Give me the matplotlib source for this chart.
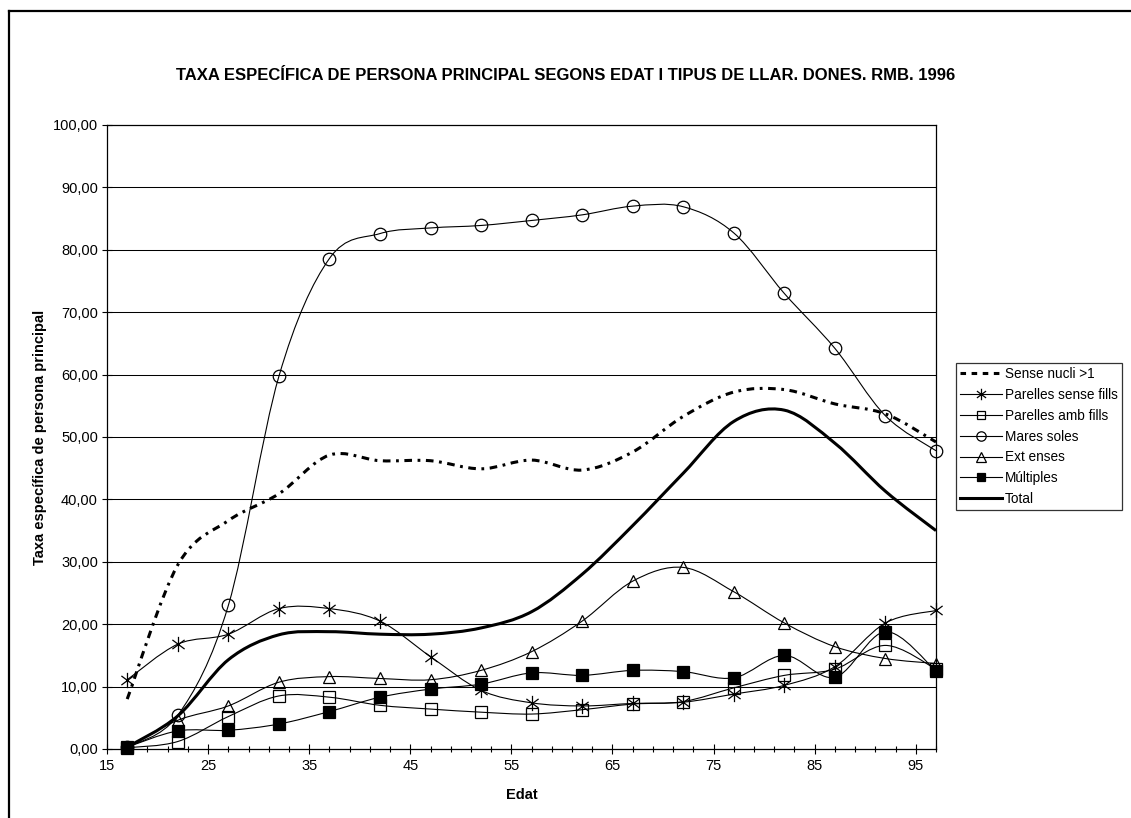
import numpy as np
import matplotlib
matplotlib.use("Agg")
import matplotlib.pyplot as plt
from matplotlib.path import Path
from matplotlib.patches import PathPatch
from matplotlib.lines import Line2D
from matplotlib.ticker import FixedLocator, FuncFormatter

# ---------------- data ----------------
ages = [17, 22, 27, 32, 37, 42, 47, 52, 57, 62, 67, 72, 77, 82, 87, 92, 97]

sense_nucli = [8.0, 29.5, 36.6, 40.9, 47.1, 46.2, 46.2, 44.9, 46.3, 44.7, 47.6, 53.3, 57.2, 57.6, 55.3, 53.7, 49.2]
parelles_sense = [11.1, 16.8, 18.4, 22.5, 22.5, 20.5, 14.8, 9.4, 7.4, 6.9, 7.3, 7.5, 8.8, 10.2, 13.2, 20.2, 22.2]
parelles_amb = [0.2, 1.2, 5.2, 8.5, 8.3, 7.0, 6.4, 5.9, 5.6, 6.3, 7.2, 7.6, 9.8, 11.8, 12.8, 16.6, 12.8]
mares_soles = [0.3, 5.4, 23.0, 59.7, 78.6, 82.6, 83.5, 83.9, 84.7, 85.6, 87.0, 86.9, 82.7, 73.0, 64.2, 53.4, 47.8]
ext_enses = [0.3, 4.6, 6.9, 10.7, 11.6, 11.3, 11.1, 12.6, 15.6, 20.5, 26.9, 29.1, 25.2, 20.2, 16.4, 14.5, 13.7]
multiples = [0.3, 2.9, 3.0, 4.0, 6.0, 8.3, 9.6, 10.4, 12.2, 11.8, 12.6, 12.4, 11.4, 15.0, 11.5, 18.8, 12.5]
total = [0.3, 5.3, 14.3, 18.3, 18.8, 18.4, 18.4, 19.4, 22.0, 28.0, 35.8, 44.2, 52.5, 54.3, 49.0, 41.3, 35.0]

labels = ["Sense nucli >1", "Parelles sense fills", "Parelles amb fills",
          "Mares soles", "Ext enses", "Múltiples", "Total"]

x_major = [15, 25, 35, 45, 55, 65, 75, 85, 95]
y_major = [0, 10, 20, 30, 40, 50, 60, 70, 80, 90, 100]

title = "TAXA ESPECÍFICA DE PERSONA PRINCIPAL SEGONS EDAT I TIPUS DE LLAR. DONES. RMB. 1996"
xlabel = "Edat"
ylabel = "Taxa específica de persona principal"

# ---------------- style ----------------
plt.rcParams['font.family'] = ['Liberation Sans', 'DejaVu Sans']
plt.rcParams['lines.scale_dashes'] = False

# asterisk marker: vertical bar plus X
ast_verts = [(0, -1), (0, 1), (-0.8, -0.6), (0.8, 0.6), (-0.8, 0.6), (0.8, -0.6)]
ast_codes = [Path.MOVETO, Path.LINETO] * 3
asterisk = Path(ast_verts, ast_codes)

dash_style = (0, (5.5, 4, 2, 4))

series = [
    dict(y=sense_nucli, lw=2.2, ls=dash_style, marker=None),
    dict(y=parelles_sense, lw=0.8, ls='-', marker=asterisk, ms=11, mfc='none'),
    dict(y=parelles_amb, lw=0.8, ls='-', marker='s', ms=8.5, mfc='none'),
    dict(y=mares_soles, lw=0.8, ls='-', marker='o', ms=9, mfc='none'),
    dict(y=ext_enses, lw=0.8, ls='-', marker='^', ms=9, mfc='none'),
    dict(y=multiples, lw=0.8, ls='-', marker='s', ms=8.5, mfc='black'),
    dict(y=total, lw=2.2, ls='-', marker=None),
]


def smooth_path(x, y):
    pts = np.column_stack([np.asarray(x, float), np.asarray(y, float)])
    n = len(pts)
    verts = [pts[0]]
    codes = [Path.MOVETO]
    for i in range(n - 1):
        p0 = pts[i - 1] if i > 0 else pts[i]
        p1 = pts[i]
        p2 = pts[i + 1]
        p3 = pts[i + 2] if i + 2 < n else pts[i + 1]
        c1 = p1 + (p2 - p0) / 6.0
        c2 = p2 - (p3 - p1) / 6.0
        verts += [c1, c2, p2]
        codes += [Path.CURVE4] * 3
    return Path(verts, codes)


W, H = 1131, 818
fig = plt.figure(figsize=(W / 100, H / 100), dpi=100)
fig.patch.set_facecolor('white')

left, right, top, bottom = 107, 936, 125, 749
ax = fig.add_axes([left / W, 1 - bottom / H, (right - left) / W, (bottom - top) / H])
ax.set_xlim(15, 97)
ax.set_ylim(0, 100)

# gridlines
for v in y_major[1:-1]:
    ax.axhline(v, color='black', lw=0.75, zorder=1)

handles = []
for i, s in enumerate(series):
    path = smooth_path(ages, s['y'])
    patch = PathPatch(path, facecolor='none', edgecolor='black', lw=s['lw'],
                      linestyle=s['ls'], zorder=2 + i, clip_on=True)
    if s['ls'] != '-':
        patch.set_capstyle('butt')
    ax.add_patch(patch)
    if s['marker'] is not None:
        ax.plot(ages, s['y'], linestyle='none', marker=s['marker'], ms=s['ms'],
                mfc=s['mfc'], mec='black', mew=0.9, color='black', zorder=10 + i,
                clip_on=False)
        handles.append(Line2D([], [], color='black', lw=s['lw'], linestyle=s['ls'],
                              marker=s['marker'], ms=s['ms'] * 0.75, mfc=s['mfc'],
                              mec='black', mew=0.9))
    else:
        handles.append(Line2D([], [], color='black', lw=s['lw'],
                              linestyle=(0, (4, 4)) if s['ls'] != '-' else '-'))

for sp in ax.spines.values():
    sp.set_color('black')
    sp.set_linewidth(0.9)

ax.xaxis.set_major_locator(FixedLocator(x_major))
ax.xaxis.set_minor_locator(FixedLocator(np.arange(15, 98, 2)))
ax.yaxis.set_major_locator(FixedLocator(y_major))
ax.yaxis.set_major_formatter(FuncFormatter(lambda v, p: f"{v:.2f}".replace('.', ',')))
ax.tick_params(axis='x', which='major', direction='inout', length=7, width=0.8,
               labelsize=10.5, pad=4)
ax.tick_params(axis='x', which='minor', direction='inout', length=5, width=0.8)
ax.tick_params(axis='y', which='major', direction='inout', length=7, width=0.8,
               labelsize=10.5, pad=3)

fig.text(0.5 * (left + right) / W, 1 - 795 / H, xlabel, ha='center', va='center',
         fontsize=10.5, fontweight='bold')
fig.text(40 / W, 1 - 437 / H, ylabel, ha='center', va='center', rotation=90,
         fontsize=10.5, fontweight='bold')
fig.text(566 / W, 1 - 75 / H, title, ha='center', va='center',
         fontsize=12, fontweight='bold')

leg = fig.legend(handles, labels, loc='upper left',
                 bbox_to_anchor=(956 / W, 1 - 363 / H), bbox_transform=fig.transFigure,
                 fontsize=9.8, frameon=True, fancybox=False, edgecolor='black',
                 handlelength=3.1, handletextpad=0.2, labelspacing=0.5,
                 borderpad=0.3, borderaxespad=0)
leg.get_frame().set_linewidth(0.9)

# outer chart frame (left and top)
fig.add_artist(Line2D([9 / W, 9 / W], [0, 1 - 11 / H], transform=fig.transFigure,
                      color='black', lw=1.6))
fig.add_artist(Line2D([9 / W, 1], [1 - 11 / H, 1 - 11 / H], transform=fig.transFigure,
                      color='black', lw=1.6))

fig.savefig('out.png', dpi=100)
